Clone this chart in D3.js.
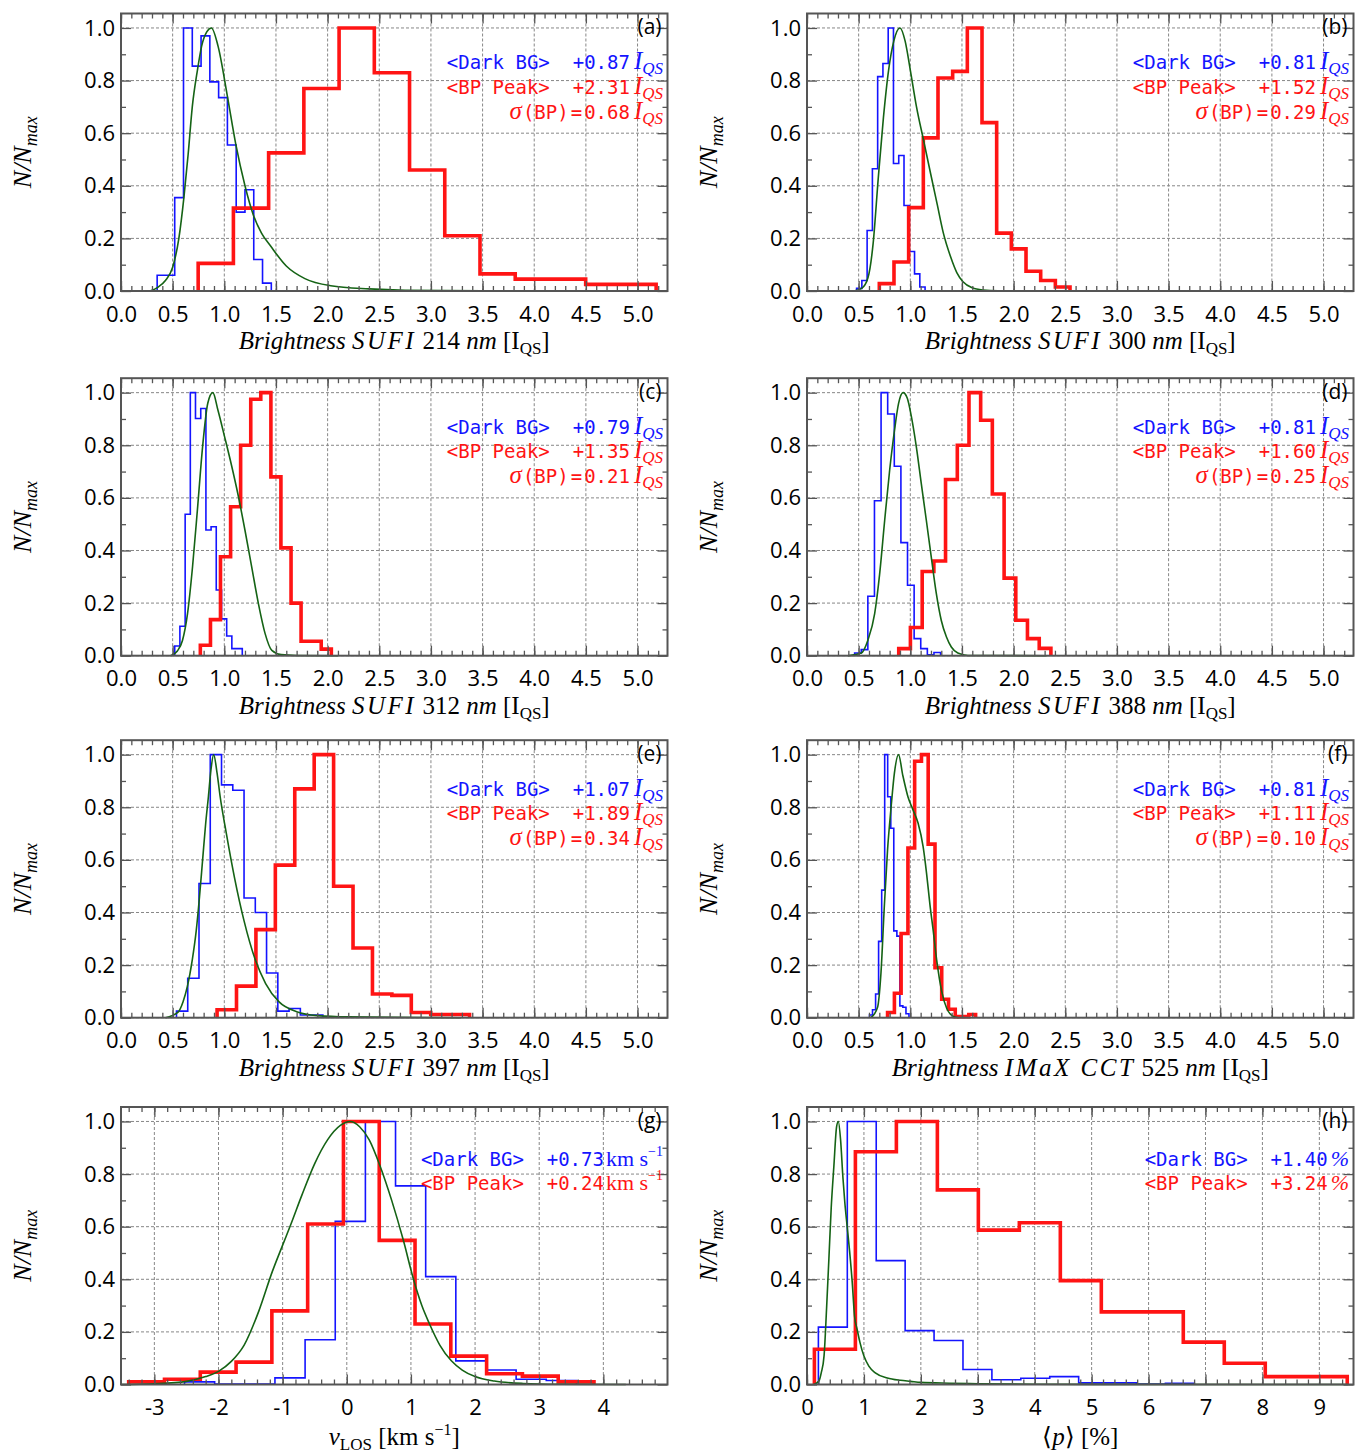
<!DOCTYPE html>
<html>
<head>
<meta charset="utf-8">
<script src="https://cdn.jsdelivr.net/npm/d3@7"></script>
<style>
body { margin: 0; background: #fff; }
</style>
</head>
<body>
<div id="viz"></div>
<script>
// Panel letters, axis titles and legend numbers
var letters = ["(a)", "(b)", "(c)", "(d)", "(e)", "(f)", "(g)", "(h)"];
var instruments = ["SUFI", "SUFI", "SUFI", "SUFI", "SUFI", "IMaX CCT"];
var wavelengths = ["214", "300", "312", "388", "397", "525"];
var darkBG = ["+0.87", "+0.81", "+0.79", "+0.81", "+1.07", "+0.81", "+0.73", "+1.40"];
var bpPeak = ["+2.31", "+1.52", "+1.35", "+1.60", "+1.89", "+1.11", "+0.24", "+3.24"];
var sigmaBP = ["0.68", "0.29", "0.21", "0.25", "0.34", "0.10"];

// tick labels
var brightTicks = [0, 0.5, 1, 1.5, 2, 2.5, 3, 3.5, 4, 4.5, 5];
var vTicks = [-3, -2, -1, 0, 1, 2, 3, 4];
var pTicks = [0, 1, 2, 3, 4, 5, 6, 7, 8, 9];
var yTicks = [0, 0.2, 0.4, 0.6, 0.8, 1.0];

// Histograms: bin edges + N/Nmax per bin (blue = dark background, red = bright points)
var edgesBlueA = [0.35, 0.435, 0.52, 0.605, 0.69, 0.775, 0.86, 0.945, 1.03, 1.115, 1.2, 1.285, 1.37, 1.455];
var blueA = [0.06, 0.06, 0.355, 1.0, 0.855, 0.97, 0.795, 0.735, 0.555, 0.30, 0.385, 0.12, 0.03];
var edgesRedA = [0.747, 1.088, 1.429, 1.77, 2.111, 2.452, 2.793, 3.134, 3.475, 3.816, 4.157, 4.498, 4.839, 5.18];
var redA = [0.105, 0.315, 0.525, 0.77, 1.0, 0.83, 0.46, 0.21, 0.065, 0.045, 0.045, 0.025, 0.025];

var edgesBlueB = [0.48, 0.531, 0.582, 0.633, 0.684, 0.735, 0.786, 0.837, 0.888, 0.939, 0.99, 1.041, 1.092, 1.143];
var blueB = [0.01, 0.04, 0.23, 0.465, 0.815, 0.865, 1.0, 0.485, 0.515, 0.325, 0.15, 0.065, 0.015];
var edgesRedB = [0.70, 0.842, 0.984, 1.126, 1.268, 1.41, 1.552, 1.694, 1.836, 1.978, 2.12, 2.262, 2.404, 2.546];
var redB = [0.028, 0.11, 0.317, 0.582, 0.81, 0.835, 1.0, 0.64, 0.22, 0.16, 0.075, 0.04, 0.015];

var edgesBlueC = [0.52, 0.57, 0.621, 0.671, 0.721, 0.772, 0.822, 0.872, 0.922, 0.973, 1.023, 1.073, 1.124, 1.174];
var blueC = [0.037, 0.112, 0.538, 1.0, 0.902, 0.94, 0.478, 0.49, 0.25, 0.14, 0.075, 0.027, 0.027];
var edgesRedC = [0.768, 0.866, 0.963, 1.061, 1.158, 1.256, 1.353, 1.451, 1.548, 1.646, 1.743, 1.841, 1.938, 2.036];
var redC = [0.04, 0.137, 0.376, 0.566, 0.80, 0.975, 1.0, 0.68, 0.41, 0.20, 0.055, 0.055, 0.025];

var edgesBlueD = [0.461, 0.525, 0.589, 0.653, 0.717, 0.781, 0.845, 0.909, 0.973, 1.037, 1.101, 1.165, 1.229, 1.293];
var blueD = [0.01, 0.023, 0.226, 0.589, 1.0, 0.919, 0.72, 0.43, 0.268, 0.065, 0.027, 0.003, 0.012];
var edgesRedD = [0.888, 1.001, 1.115, 1.228, 1.341, 1.455, 1.568, 1.681, 1.794, 1.908, 2.021, 2.134, 2.248, 2.361];
var redD = [0.027, 0.107, 0.32, 0.36, 0.67, 0.80, 1.0, 0.895, 0.615, 0.295, 0.135, 0.065, 0.028];

var edgesBlueE = [0.537, 0.646, 0.755, 0.864, 0.973, 1.082, 1.191, 1.3, 1.409, 1.518, 1.627, 1.736, 1.845, 1.954];
var blueE = [0.025, 0.15, 0.51, 1.0, 0.885, 0.865, 0.455, 0.40, 0.17, 0.025, 0.035, 0.01, 0.01];
var edgesRedE = [0.93, 1.118, 1.306, 1.494, 1.682, 1.87, 2.058, 2.246, 2.434, 2.622, 2.81, 2.998, 3.186, 3.374];
var redE = [0.03, 0.12, 0.335, 0.58, 0.87, 1.0, 0.50, 0.265, 0.09, 0.085, 0.02, 0.012, 0.012];

var edgesBlueF = [0.605, 0.634, 0.664, 0.693, 0.723, 0.752, 0.781, 0.811, 0.84, 0.87, 0.899, 0.928, 0.958, 0.987];
var blueF = [0.01, 0.03, 0.09, 0.29, 0.485, 1.0, 0.84, 0.72, 0.33, 0.31, 0.045, 0.04, 0.015];
var edgesRedF = [0.78, 0.846, 0.911, 0.977, 1.042, 1.108, 1.173, 1.239, 1.304, 1.37, 1.435, 1.501, 1.566, 1.632];
var redF = [0.02, 0.093, 0.32, 0.645, 0.975, 1.0, 0.66, 0.19, 0.07, 0.032, 0.004, 0.004, 0.012];

var edgesBlueG = [-2.53, -2.06, -1.59, -1.12, -0.65, -0.18, 0.29, 0.76, 1.23, 1.70, 2.17, 2.64, 3.11, 3.58];
var blueG = [0.01, 0.002, 0.002, 0.025, 0.17, 0.62, 1.0, 0.755, 0.41, 0.09, 0.055, 0.02, 0.015];
var edgesRedG = [-3.4, -2.842, -2.284, -1.726, -1.168, -0.61, -0.052, 0.506, 1.064, 1.622, 2.18, 2.738, 3.296, 3.854];
var redG = [0.01, 0.02, 0.047, 0.085, 0.28, 0.61, 1.0, 0.548, 0.23, 0.108, 0.041, 0.032, 0.01];

var edgesBlueH = [0.2, 0.708, 1.216, 1.724, 2.232, 2.74, 3.248, 3.756, 4.264, 4.772, 5.28, 5.788, 6.296, 6.804];
var blueH = [0.218, 1.0, 0.471, 0.205, 0.167, 0.057, 0.018, 0.024, 0.03, 0.006, 0.006, 0.002, 0.005];
var edgesRedH = [0.13, 0.85, 1.57, 2.29, 3.01, 3.73, 4.45, 5.17, 5.89, 6.61, 7.33, 8.05, 8.77, 9.49];
var redH = [0.134, 0.885, 1.0, 0.74, 0.587, 0.615, 0.395, 0.276, 0.276, 0.161, 0.081, 0.03, 0.03];

var greenA = [[0.28,0],[0.36,0.015],[0.43,0.04],[0.5,0.09],[0.56,0.2],[0.61,0.36],[0.65,0.52],[0.69,0.7],[0.74,0.84],[0.78,0.93],[0.83,0.985],[0.875,1.0],[0.94,0.93],[1.03,0.74],[1.11,0.56],[1.2,0.4],[1.28,0.29],[1.36,0.22],[1.45,0.17],[1.6,0.095],[1.78,0.047],[2.03,0.02],[2.4,0.008],[2.75,0.003],[3.5,0.001],[5.0,0]];
var greenB = [[0.45,0],[0.53,0.01],[0.59,0.05],[0.64,0.18],[0.69,0.43],[0.74,0.66],[0.79,0.84],[0.84,0.95],[0.9,1.0],[0.95,0.95],[1.0,0.84],[1.06,0.7],[1.13,0.57],[1.2,0.44],[1.26,0.33],[1.32,0.22],[1.39,0.13],[1.45,0.07],[1.51,0.035],[1.6,0.012],[1.7,0.004],[1.85,0.001],[2.5,0]];
var greenC = [[0.48,0],[0.546,0.018],[0.595,0.058],[0.644,0.16],[0.693,0.34],[0.742,0.566],[0.79,0.795],[0.84,0.96],[0.889,1.0],[0.938,0.934],[1.003,0.832],[1.069,0.725],[1.134,0.61],[1.2,0.477],[1.265,0.338],[1.33,0.198],[1.395,0.084],[1.46,0.02],[1.55,0.004],[1.7,0.001],[2.1,0]];
var greenD = [[0.397,0],[0.526,0.01],[0.59,0.06],[0.655,0.16],[0.703,0.31],[0.752,0.515],[0.8,0.705],[0.848,0.86],[0.887,0.96],[0.93,1.0],[0.97,0.98],[1.01,0.91],[1.058,0.795],[1.106,0.655],[1.155,0.515],[1.203,0.375],[1.252,0.236],[1.3,0.134],[1.35,0.071],[1.397,0.033],[1.46,0.01],[1.558,0.001],[2.32,0]];
var greenE = [[0.43,0],[0.55,0.02],[0.6,0.06],[0.643,0.12],[0.69,0.22],[0.728,0.33],[0.76,0.46],[0.79,0.6],[0.82,0.74],[0.846,0.84],[0.87,0.94],[0.897,1.0],[0.93,0.93],[0.96,0.84],[1.02,0.7],[1.1,0.53],[1.19,0.37],[1.3,0.22],[1.4,0.13],[1.53,0.06],[1.7,0.023],[1.9,0.008],[2.2,0.003],[3.29,0]];
var greenF = [[0.618,0],[0.683,0.04],[0.716,0.17],[0.748,0.42],[0.78,0.64],[0.814,0.8],[0.846,0.93],[0.886,1.0],[0.928,0.92],[0.977,0.84],[1.026,0.79],[1.075,0.74],[1.124,0.65],[1.157,0.55],[1.19,0.43],[1.222,0.33],[1.255,0.22],[1.304,0.1],[1.353,0.035],[1.418,0.005],[1.467,0]];
var greenG = [[-3.52,0],[-3,0.003],[-2.5,0.012],[-2.2,0.03],[-2.0,0.05],[-1.8,0.088],[-1.6,0.15],[-1.37,0.28],[-1.16,0.43],[-1.0,0.53],[-0.87,0.61],[-0.7,0.72],[-0.5,0.84],[-0.3,0.93],[-0.1,0.985],[0.05,1.0],[0.2,0.98],[0.35,0.93],[0.52,0.83],[0.7,0.7],[0.88,0.55],[1.04,0.4],[1.17,0.3],[1.29,0.23],[1.45,0.15],[1.63,0.09],[1.8,0.055],[2.0,0.03],[2.3,0.013],[2.75,0.004],[3.3,0.001],[4.35,0]];
var greenH = [[0.12,0],[0.21,0.013],[0.25,0.044],[0.3,0.11],[0.344,0.29],[0.385,0.48],[0.425,0.67],[0.472,0.83],[0.52,0.98],[0.55,1.0],[0.59,0.93],[0.63,0.79],[0.665,0.69],[0.706,0.6],[0.747,0.51],[0.794,0.39],[0.835,0.26],[0.88,0.21],[0.93,0.16],[1.0,0.108],[1.086,0.07],[1.2,0.044],[1.41,0.025],[1.64,0.016],[1.82,0.012],[2.0,0.008],[2.5,0.005],[3,0.003],[4,0.001],[5,0.0005],[9.5,0]];

var panels = [
  {kind: "b", eb: edgesBlueA, b: blueA, er: edgesRedA, r: redA, gr: greenA},
  {kind: "b", eb: edgesBlueB, b: blueB, er: edgesRedB, r: redB, gr: greenB},
  {kind: "b", eb: edgesBlueC, b: blueC, er: edgesRedC, r: redC, gr: greenC},
  {kind: "b", eb: edgesBlueD, b: blueD, er: edgesRedD, r: redD, gr: greenD},
  {kind: "b", eb: edgesBlueE, b: blueE, er: edgesRedE, r: redE, gr: greenE},
  {kind: "b", eb: edgesBlueF, b: blueF, er: edgesRedF, r: redF, gr: greenF},
  {kind: "v", eb: edgesBlueG, b: blueG, er: edgesRedG, r: redG, gr: greenG},
  {kind: "p", eb: edgesBlueH, b: blueH, er: edgesRedH, r: redH, gr: greenH}
];

var MONO = "'DejaVu Sans Mono', monospace",
    SERIF = "'Liberation Serif', serif",
    SANS = "'Open Sans', sans-serif";
var BLUE = "#1414ff", RED = "#ff1414", GREEN = "#156315", FRAME = "#555";

// layout of the 2x4 grid
var colX = [[121, 667.5], [807, 1353.5]];
var rowBottom = [291, 655.7, 1017.7, 1384.5];
var plotH = 277.5;

var svg = d3.select("#viz")
  .append("svg")
    .attr("width", 1359)
    .attr("height", 1452);

function stepPoints(edges, vals) {
  var pts = [[edges[0], 0]];
  vals.forEach(function(v, k) {
    pts.push([edges[k], v]);
    pts.push([edges[k + 1], v]);
  });
  pts.push([edges[edges.length - 1], 0]);
  return pts;
}

function runs(text, list) {
  list.forEach(function(r) {
    var t = text.append("tspan").text(r.t);
    if (r.ff) t.attr("font-family", r.ff);
    if (r.fs) t.attr("font-size", r.fs);
    if (r.it) t.attr("font-style", "italic");
    if (r.dx) t.attr("dx", r.dx);
    if (r.dy) t.attr("dy", r.dy);
    if (r.ls) t.attr("letter-spacing", r.ls);
  });
}

function unitRuns(kind) {
  if (kind == "b") return [{t: "I", ff: SERIF, fs: 25, it: true, dx: 4}, {t: "QS", ff: SERIF, fs: 17, it: true, dy: 5}];
  if (kind == "v") return [{t: "km s", ff: SERIF, fs: 22, dx: 2}, {t: "\u22121", ff: SERIF, fs: 14, dy: -10}];
  return [{t: "%", ff: SERIF, fs: 22, it: true, dx: 3}];
}

panels.forEach(function(p, i) {
  var col = i % 2, row = Math.floor(i / 2);
  var left = colX[col][0], w = colX[col][1] - colX[col][0];
  var h = plotH, top = rowBottom[row] - plotH;

  var xDomain, major, minor, fmt;
  if (p.kind == "b") {
    xDomain = [0, 5.29]; major = brightTicks; minor = d3.range(0, 5.25, 0.1); fmt = d3.format(".1f");
  } else if (p.kind == "v") {
    xDomain = [-3.52, 5.0]; major = vTicks; minor = d3.range(-3.4, 4.9, 0.2); fmt = function(d) { return String(d); };
  } else {
    xDomain = [0, 9.6]; major = pTicks; minor = d3.range(0, 9.5, 0.2); fmt = function(d) { return String(d); };
  }

  var x = d3.scaleLinear().domain(xDomain).range([0, w]);
  var y = d3.scaleLinear().domain([0, 1.055]).range([h, 0]);

  var g = svg.append("g").attr("transform", "translate(" + left + "," + top + ")");

  // dotted grid
  g.append("g").selectAll("line").data(major).enter().append("line")
    .attr("x1", function(d) { return x(d); }).attr("x2", function(d) { return x(d); })
    .attr("y1", 0).attr("y2", h)
    .attr("stroke", "#878787").attr("stroke-width", 1).attr("stroke-dasharray", "3,2");
  g.append("g").selectAll("line").data(yTicks).enter().append("line")
    .attr("x1", 0).attr("x2", w)
    .attr("y1", function(d) { return y(d); }).attr("y2", function(d) { return y(d); })
    .attr("stroke", "#878787").attr("stroke-width", 1).attr("stroke-dasharray", "3,2");

  var line = d3.line().x(function(d) { return x(d[0]); }).y(function(d) { return y(d[1]); });

  g.append("path").attr("d", line(stepPoints(p.eb, p.b)))
    .attr("fill", "none").attr("stroke", BLUE).attr("stroke-width", 1.6).attr("stroke-linejoin", "miter");
  g.append("path").attr("d", line(stepPoints(p.er, p.r)))
    .attr("fill", "none").attr("stroke", RED).attr("stroke-width", 3.6).attr("stroke-linejoin", "miter");
  g.append("path").attr("d", line.curve(d3.curveMonotoneX)(p.gr))
    .attr("fill", "none").attr("stroke", GREEN).attr("stroke-width", 1.6);

  // axes, ticks pointing inwards on all four sides
  function clean(sel) {
    sel.select(".domain").remove();
    sel.selectAll(".tick line").attr("stroke", FRAME).attr("stroke-width", 1.3);
    sel.attr("font-family", SANS).attr("font-size", 22).attr("color", "#000");
  }
  g.append("g").attr("transform", "translate(0," + h + ")")
    .call(d3.axisBottom(x).tickValues(major).tickSize(-10).tickSizeOuter(0).tickPadding(15).tickFormat(fmt)).call(clean);
  g.append("g").attr("transform", "translate(0," + h + ")")
    .call(d3.axisBottom(x).tickValues(minor).tickSize(-5).tickSizeOuter(0).tickFormat("")).call(clean);
  g.append("g")
    .call(d3.axisTop(x).tickValues(major).tickSize(-10).tickSizeOuter(0).tickFormat("")).call(clean);
  g.append("g")
    .call(d3.axisTop(x).tickValues(minor).tickSize(-5).tickSizeOuter(0).tickFormat("")).call(clean);
  g.append("g")
    .call(d3.axisLeft(y).tickValues(yTicks).tickSize(-10).tickSizeOuter(0).tickPadding(6).tickFormat(d3.format(".1f"))).call(clean);
  g.append("g")
    .call(d3.axisLeft(y).tickValues(d3.range(0.1, 1.05, 0.2)).tickSize(-5).tickSizeOuter(0).tickFormat("")).call(clean);
  g.append("g").attr("transform", "translate(" + w + ",0)")
    .call(d3.axisRight(y).tickValues(yTicks).tickSize(-10).tickSizeOuter(0).tickFormat("")).call(clean);
  g.append("g").attr("transform", "translate(" + w + ",0)")
    .call(d3.axisRight(y).tickValues(d3.range(0.1, 1.05, 0.2)).tickSize(-5).tickSizeOuter(0).tickFormat("")).call(clean);

  g.append("rect").attr("width", w).attr("height", h)
    .attr("fill", "none").attr("stroke", FRAME).attr("stroke-width", 2);

  // panel letter
  g.append("text").attr("x", w - 6).attr("y", 20.5).attr("text-anchor", "end")
    .attr("font-family", SANS).attr("font-size", 21).text(letters[i]);

  // y title
  var yt = g.append("text").attr("transform", "translate(-90.5," + (h / 2) + ") rotate(-90)")
    .attr("text-anchor", "middle").attr("font-family", SERIF);
  runs(yt, [{t: "N/N", fs: 26, it: true}, {t: "max", fs: 18, it: true, dy: 6}]);

  // x title
  var xt = g.append("text").attr("x", w / 2).attr("y", h + (row == 3 ? 60 : 58))
    .attr("text-anchor", "middle").attr("font-family", SERIF).attr("font-size", 25)
    .attr("xml:space", "preserve").style("white-space", "pre");
  if (p.kind == "b") {
    runs(xt, [{t: "Brightness ", it: true}, {t: instruments[i], it: true, ls: 2.5}, {t: " " + wavelengths[i] + " "},
              {t: "nm", it: true}, {t: " [I"}, {t: "QS", fs: 17, dy: 5}, {t: "]", dy: -5}]);
  } else if (p.kind == "v") {
    runs(xt, [{t: "v", it: true}, {t: "LOS", fs: 17, dy: 5}, {t: " [km s", dy: -5}, {t: "\u22121", fs: 16, dy: -10}, {t: "]", dy: 10}]);
  } else {
    runs(xt, [{t: "\u27e8"}, {t: "p", it: true}, {t: "\u27e9 [%]"}]);
  }

  // legend block, right aligned
  var y0 = p.kind == "b" ? 55.5 : 58.5;
  var l1 = g.append("text").attr("x", w - 4.5).attr("y", y0).attr("text-anchor", "end").attr("fill", BLUE)
    .attr("xml:space", "preserve").style("white-space", "pre");
  runs(l1, [{t: "<Dark BG>  " + darkBG[i], ff: MONO, fs: 19}].concat(unitRuns(p.kind)));
  var l2 = g.append("text").attr("x", w - 4.5).attr("y", y0 + 24.5).attr("text-anchor", "end").attr("fill", RED)
    .attr("xml:space", "preserve").style("white-space", "pre");
  runs(l2, [{t: "<BP Peak>  " + bpPeak[i], ff: MONO, fs: 19}].concat(unitRuns(p.kind)));
  if (p.kind == "b") {
    var l3 = g.append("text").attr("x", w - 4.5).attr("y", y0 + 49.5).attr("text-anchor", "end").attr("fill", RED)
      .attr("xml:space", "preserve").style("white-space", "pre");
    runs(l3, [{t: "\u03c3", ff: SERIF, fs: 25, it: true}, {t: "(BP)", ff: MONO, fs: 19, dx: 1},
              {t: "=", ff: MONO, fs: 19, dx: 2}, {t: sigmaBP[i], ff: MONO, fs: 19, dx: 2}].concat(unitRuns(p.kind)));
  }
});
</script>
</body>
</html>
